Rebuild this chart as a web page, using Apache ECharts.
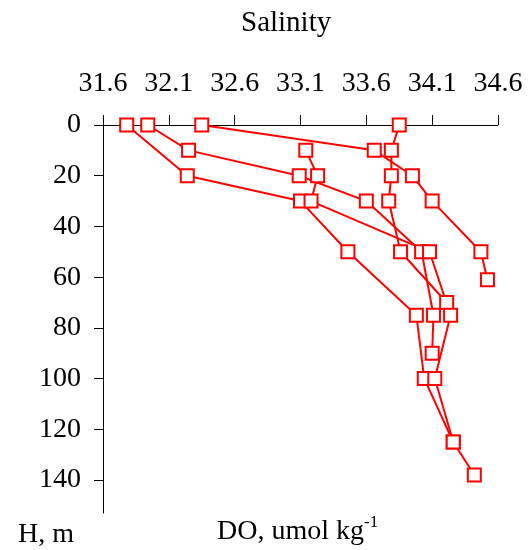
<!DOCTYPE html>
<html>
<head>
<meta charset="utf-8">
<script src="https://cdn.jsdelivr.net/npm/echarts@6/dist/echarts.min.js"></script>
<style>
html,body{margin:0;padding:0;background:#fff;}
#chart{width:531px;height:550px;}
</style>
</head>
<body>
<div id="chart"></div>
<script>
// Tick labels
const salinityTicks = [31.6, 32.1, 32.6, 33.1, 33.6, 34.1, 34.6];
const depthTicks = [0, 20, 40, 60, 80, 100, 120, 140];

// Profiles: salinity and depth (m)
const p1Sal   = [31.94, 32.25, 33.09, 33.60, 34.02, 34.11, 34.10];
const p1Depth = [0, 10, 20, 30, 50, 75, 90];

const p2Sal   = [31.78, 32.24, 33.10, 33.46, 33.98, 34.04, 34.26];
const p2Depth = [0, 20, 30, 50, 75, 100, 125];

const p3Sal   = [32.35, 33.66, 33.95, 34.10, 34.47, 34.52];
const p3Depth = [0, 10, 20, 30, 50, 61];

const p4Sal   = [33.85, 33.79, 33.79, 33.77, 33.86, 34.21];
const p4Depth = [0, 10, 20, 30, 50, 70];

const p5Sal   = [33.14, 33.23, 33.18, 34.08, 34.24, 34.12, 34.26, 34.42];
const p5Depth = [10, 20, 30, 50, 75, 100, 125, 138];

const profiles = [[p1Sal, p1Depth], [p2Sal, p2Depth], [p3Sal, p3Depth], [p4Sal, p4Depth], [p5Sal, p5Depth]];

const FONT = 'Liberation Serif';
const chart = echarts.init(document.getElementById('chart'));

const series = profiles.map(([s, d]) => ({
  type: 'line',
  data: s.map((v, i) => [v, d[i]]),
  symbol: 'rect',
  symbolSize: 13,
  showAllSymbol: true,
  lineStyle: { color: '#ff0000', width: 2 },
  itemStyle: { color: '#ffffff', borderColor: '#ff0000', borderWidth: 2 },
  emphasis: { disabled: true },
  animation: false
}));

chart.setOption({
  animation: false,
  grid: { left: 103, right: 33, top: 125, bottom: 37, containLabel: false },
  xAxis: {
    type: 'value',
    position: 'top',
    min: 31.6,
    max: 34.6,
    axisLine: { show: true, onZero: false, lineStyle: { color: '#000', width: 1 } },
    axisTick: { show: true, inside: false, length: 10, customValues: salinityTicks, lineStyle: { color: '#000' } },
    axisLabel: {
      customValues: salinityTicks,
      formatter: v => Number(v).toFixed(1),
      fontFamily: FONT, fontSize: 28, color: '#000', margin: 27
    },
    splitLine: { show: false }
  },
  yAxis: {
    type: 'value',
    inverse: true,
    min: 0,
    max: 153,
    axisLine: { show: true, onZero: false, lineStyle: { color: '#000', width: 1 } },
    axisTick: { show: true, inside: false, length: 9, customValues: depthTicks, lineStyle: { color: '#000' } },
    axisLabel: {
      customValues: depthTicks,
      fontFamily: FONT, fontSize: 28, color: '#000', margin: 22
    },
    splitLine: { show: false }
  },
  graphic: [
    { type: 'text', left: 241, top: 9, style: { text: 'Salinity', fontFamily: FONT, fontSize: 29, fill: '#000' } },
    { type: 'text', left: 18, top: 521, style: { text: 'H, m', fontFamily: FONT, fontSize: 28, fill: '#000' } },
    { type: 'text', left: 217, top: 514, style: {
        text: '{a|DO, umol kg}{b|-1}',
        rich: {
          a: { fontFamily: FONT, fontSize: 28, fill: '#000', verticalAlign: 'bottom', lineHeight: 32 },
          b: { fontFamily: FONT, fontSize: 17, fill: '#000', verticalAlign: 'top', lineHeight: 32 }
        }
      } }
  ],
  series: series
});
</script>
</body>
</html>
